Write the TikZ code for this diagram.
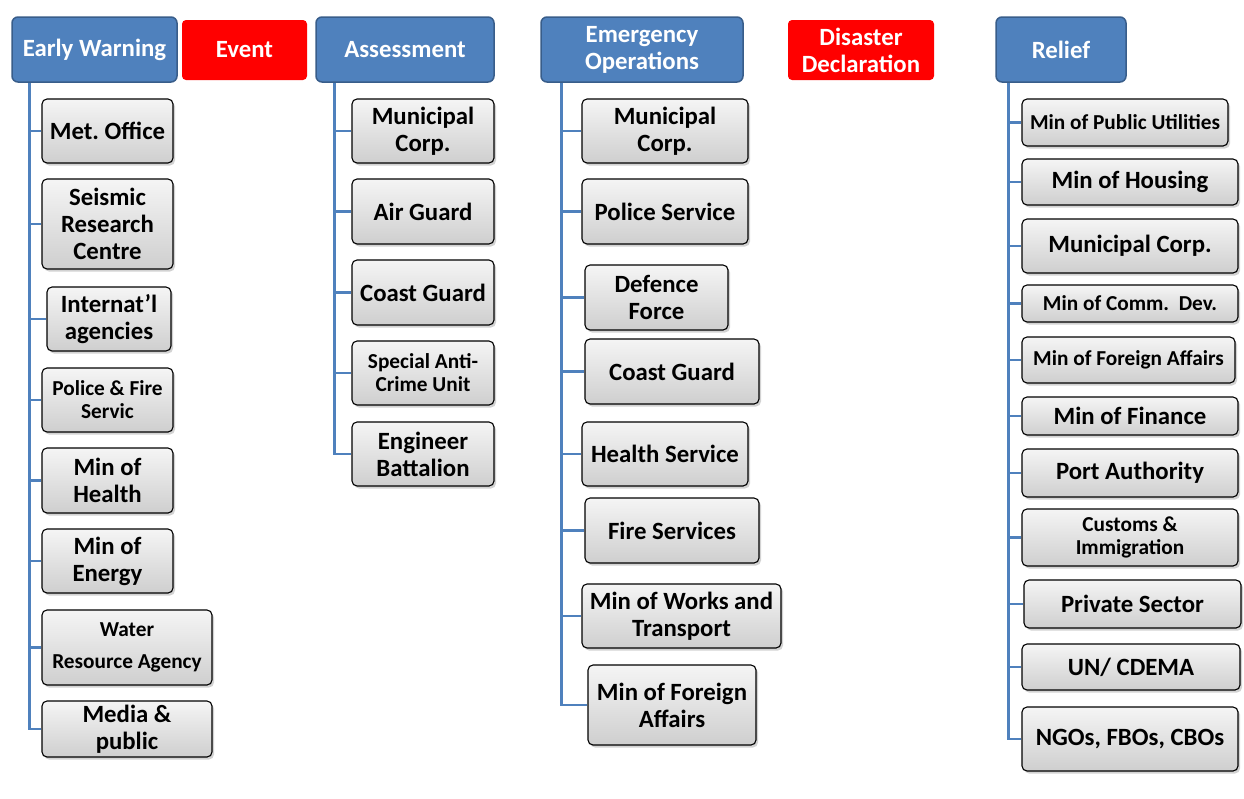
\documentclass[tikz,border=0pt]{standalone}
\usepackage{fontspec}
\setmainfont{Carlito}
\usetikzlibrary{shadows}
\frenchspacing
\definecolor{hdblue}{HTML}{4F81BD}
\definecolor{hdline}{HTML}{385D8A}
\newcommand{\bigtxt}{\bfseries\fontsize{24.8}{27}\selectfont}
\newcommand{\smalltxt}{\bfseries\fontsize{21.3}{23}\selectfont}
\tikzset{
  head/.style={rounded corners=6pt, fill=hdblue, draw=hdline, line width=1.5pt,
    text=white, align=center, font=\bigtxt, inner sep=0pt},
  phase/.style={rounded corners=4pt, fill=red, text=white, align=center,
    font=\bigtxt, inner sep=0pt},
  agency/.style={rounded corners=5pt, draw=black, line width=1.1pt,
    top color=gray!8, bottom color=gray!38, align=center, font=\bigtxt, inner sep=0pt,
    drop shadow={shadow xshift=2pt, shadow yshift=-2.5pt, opacity=.35}},
  small/.style={font=\smalltxt},
  trunk/.style={draw=hdblue, line width=2.8pt}
}
\begin{document}
\begin{tikzpicture}[x=1pt,y=-1pt]
  \fill[white] (0,0) rectangle (1244,798);
  \useasboundingbox (0,0) rectangle (1244,798);
  % phase headers
  \node[head, minimum width=165pt, minimum height=65pt] (ew) at (94.5,49.5) {Early Warning};
  \node[phase, minimum width=125pt, minimum height=60pt] (ev) at (244.5,50) {Event};
  \node[head, minimum width=178pt, minimum height=65pt] (as) at (405,49.5) {Assessment};
  \node[head, minimum width=202pt, minimum height=65pt] (eo) at (642,49.5) {Emergency\\Operations};
  \node[phase, minimum width=146pt, minimum height=60pt] (dd) at (861,50) {Disaster\\Declaration};
  \node[head, minimum width=130pt, minimum height=65pt] (rl) at (1061,49.5) {Relief};
  % early warning
  \node[agency, minimum width=131pt, minimum height=64pt] (ew1) at (107.5,131) {Met. Office};
  \node[agency, minimum width=131pt, minimum height=90pt] (ew2) at (107.5,224) {Seismic\\Research\\Centre};
  \node[agency, minimum width=124pt, minimum height=64pt] (ew3) at (109,319) {Internat’l\\agencies};
  \node[agency, small, minimum width=131pt, minimum height=64pt] (ew4) at (107.5,400) {Police \& Fire\\Servic};
  \node[agency, minimum width=131pt, minimum height=65pt] (ew5) at (107.5,480.5) {Min of\\Health};
  \node[agency, minimum width=131pt, minimum height=64pt] (ew6) at (107.5,561) {Min of\\Energy};
  \node[agency, small, minimum width=170pt, minimum height=75pt] (ew7) at (127,647.5) {Water\\[9pt]Resource Agency};
  \node[agency, minimum width=170pt, minimum height=56pt] (ew8) at (127,729) {Media \&\\public};
  % assessment
  \node[agency, minimum width=142pt, minimum height=64pt] (as1) at (423,131) {Municipal\\Corp.};
  \node[agency, minimum width=142pt, minimum height=65pt] (as2) at (423,211.5) {Air Guard};
  \node[agency, minimum width=142pt, minimum height=65pt] (as3) at (423,292.5) {Coast Guard};
  \node[agency, small, minimum width=142pt, minimum height=64pt] (as4) at (423,373) {Special Anti-\\Crime Unit};
  \node[agency, minimum width=142pt, minimum height=64pt] (as5) at (423,454) {Engineer\\Battalion};
  % emergency operations
  \node[agency, minimum width=166pt, minimum height=64pt] (eo1) at (665,131) {Municipal\\Corp.};
  \node[agency, minimum width=166pt, minimum height=65pt] (eo2) at (665,211.5) {Police Service};
  \node[agency, minimum width=143pt, minimum height=65pt] (eo3) at (656.5,297.5) {Defence\\Force};
  \node[agency, minimum width=174pt, minimum height=65pt] (eo4) at (672,371.5) {Coast Guard};
  \node[agency, minimum width=166pt, minimum height=64pt] (eo5) at (665,454) {Health Service};
  \node[agency, minimum width=174pt, minimum height=65pt] (eo6) at (672,530.5) {Fire Services};
  \node[agency, minimum width=199pt, minimum height=64pt] (eo7) at (681.5,616) {Min of Works and\\Transport};
  \node[agency, minimum width=168pt, minimum height=80pt] (eo8) at (672,705) {Min of Foreign\\Affairs};
  % relief
  \node[agency, small, minimum width=206pt, minimum height=47pt] (rl1) at (1125,122.5) {Min of Public Utilities};
  \node[agency, minimum width=216pt, minimum height=46pt] (rl2) at (1130,182) {Min of Housing};
  \node[agency, minimum width=216pt, minimum height=54pt] (rl3) at (1130,246) {Municipal Corp.};
  \node[agency, small, minimum width=216pt, minimum height=37pt] (rl4) at (1130,303.5) {Min of Comm.~ Dev.};
  \node[agency, small, minimum width=213pt, minimum height=46pt] (rl5) at (1128.5,360) {Min of Foreign Affairs};
  \node[agency, minimum width=216pt, minimum height=38pt] (rl6) at (1130,416) {Min of Finance};
  \node[agency, minimum width=216pt, minimum height=48pt] (rl7) at (1130,473) {Port Authority};
  \node[agency, small, minimum width=216pt, minimum height=57pt] (rl8) at (1130,537.5) {Customs \&\\Immigration};
  \node[agency, minimum width=217pt, minimum height=48pt] (rl9) at (1132.5,604) {Private Sector};
  \node[agency, minimum width=218pt, minimum height=46pt] (rl10) at (1131,667) {UN/ CDEMA};
  \node[agency, minimum width=216pt, minimum height=64pt] (rl11) at (1130,739) {NGOs, FBOs, CBOs};
  % connectors
  \foreach \c in {ew1,ew2,ew3,ew4,ew5,ew6,ew7,ew8}
    \draw[trunk] ([xshift=18pt]ew.south west) |- (\c.west);
  \foreach \c in {as1,as2,as3,as4,as5}
    \draw[trunk] ([xshift=19pt]as.south west) |- (\c.west);
  \foreach \c in {eo1,eo2,eo3,eo4,eo5,eo6,eo7,eo8}
    \draw[trunk] ([xshift=21pt]eo.south west) |- (\c.west);
  \foreach \c in {rl1,rl2,rl3,rl4,rl5,rl6,rl7,rl8,rl9,rl10,rl11}
    \draw[trunk] ([xshift=13pt]rl.south west) |- (\c.west);
\end{tikzpicture}
\end{document}
